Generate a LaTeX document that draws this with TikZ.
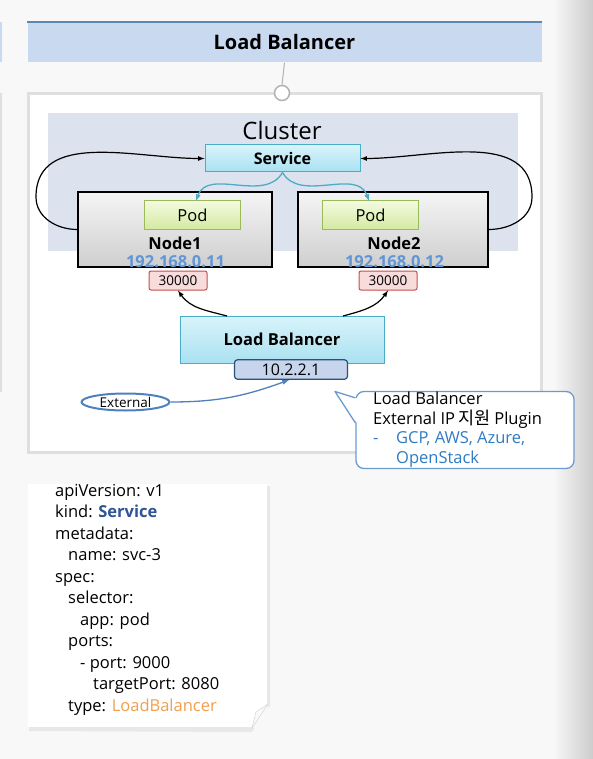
\documentclass[tikz,border=0pt]{standalone}
\usepackage{fontspec}
\setmainfont{Open Sans}
\newfontfamily\krfont{Noto Sans CJK KR}
\usetikzlibrary{shapes.geometric}

\definecolor{pagebg}{HTML}{F8F8F8}
\definecolor{hdrfill}{HTML}{C9DAF0}
\definecolor{hdrline}{HTML}{5B87B5}
\definecolor{clusterbg}{HTML}{DCE3EE}
\definecolor{svcline}{HTML}{4BACC6}
\definecolor{svctop}{HTML}{D8F3FA}
\definecolor{svcbot}{HTML}{A9E1F1}
\definecolor{podline}{HTML}{9BBB59}
\definecolor{podtop}{HTML}{F3FADF}
\definecolor{podbot}{HTML}{D5EAA2}
\definecolor{portfill}{HTML}{F8DCDC}
\definecolor{portline}{HTML}{C0504D}
\definecolor{ipblue}{HTML}{6196D6}
\definecolor{ipfill}{HTML}{C6D4EC}
\definecolor{ipline}{HTML}{2F4E7A}
\definecolor{extline}{HTML}{4F81BD}
\definecolor{noteline}{HTML}{6C9AD0}
\definecolor{cloudblue}{HTML}{2E7BC4}
\definecolor{kindblue}{HTML}{2F5597}
\definecolor{typeorange}{HTML}{F0A050}

\begin{document}
\begin{tikzpicture}
[every node/.style={inner sep=0pt},
 nodebox/.style={rectangle, draw=black, line width=1.2pt, top color=gray!8, bottom color=gray!38, minimum width=#1, minimum height=75pt},
 podbox/.style={rectangle, draw=podline, line width=1pt, top color=podtop, bottom color=podbot, minimum width=96pt, minimum height=28pt, font=\fontsize{16.5}{16.5}\selectfont},
 cyanbox/.style={rectangle, draw=svcline, line width=1pt, top color=svctop, bottom color=svcbot},
 portbox/.style={rectangle, rounded corners=2pt, draw=portline, line width=1pt, fill=portfill, minimum width=58pt, minimum height=19pt, font=\fontsize{13.5}{13.5}\selectfont},
 iptext/.style={text=ipblue, font=\fontsize{16.5}{16.5}\selectfont\bfseries},
 nodetext/.style={font=\fontsize{16.5}{16.5}\selectfont\bfseries}]
\useasboundingbox (0pt,0pt) rectangle (593pt,-759pt);
\fill[pagebg] (0pt,0pt) rectangle (593pt,-759pt);
\shade[left color=pagebg, right color=gray!40] (553pt,0pt) rectangle (593pt,-759pt);
% bits of the slide next to this one
\fill[hdrfill] (0pt,-22pt) rectangle (2pt,-62pt);
\draw[gray!25, line width=2pt] (1pt,-93pt) -- (1pt,-392pt);

% header
\node (hdr) [rectangle, fill=hdrfill, minimum width=514pt, minimum height=40pt, font=\fontsize{20}{20}\selectfont\bfseries] at (284.5pt, -42.5pt) {Load Balancer};
\draw [hdrline, line width=2pt] (hdr.north west) -- (hdr.north east);

% frame and cluster
\node (frame) [rectangle, draw=gray!25, line width=2.5pt, fill=white, minimum width=513pt, minimum height=359pt] at (285pt, -273pt) {};
\node (cluster) [rectangle, fill=clusterbg, minimum width=470pt, minimum height=138pt] at (283pt, -182pt) {};
\node (clusterlabel) [font=\fontsize{24}{24}\selectfont] at (282pt, -131pt) {Cluster};
\node (dot) [circle, draw=gray!60, line width=1.5pt, fill=white, minimum size=15pt] at (282pt, -93pt) {};
\draw [gray!60, line width=1pt] (hdr.south) -- (dot.north);

% service and nodes
\node (svc) [cyanbox, minimum width=155pt, minimum height=27pt, font=\fontsize{16}{16}\selectfont\bfseries] at (282.5pt, -158.5pt) {Service};
\node (n1) [nodebox=194pt] at (175pt, -229.5pt) {};
\node (n2) [nodebox=190pt] at (393pt, -229.5pt) {};
\node (pod1) [podbox] at (192.5pt, -215pt) {Pod};
\node (pod2) [podbox] at (370.5pt, -215pt) {Pod};
\node (n1label) [nodetext] at (175pt, -243pt) {Node1};
\node (n2label) [nodetext] at (394pt, -243pt) {Node2};
\node (ip1) [iptext] at (175.5pt, -262pt) {192.168.0.11};
\node (ip2) [iptext] at (394.5pt, -262pt) {192.168.0.12};
\node (port1) [portbox] at (178pt, -280.5pt) {30000};
\node (port2) [portbox] at (388pt, -280.5pt) {30000};

% load balancer
\node (lb) [cyanbox, minimum width=204pt, minimum height=47pt, font=\fontsize{16.5}{16.5}\selectfont\bfseries] at (282pt, -340pt) {\raisebox{1pt}{Load Balancer}};
\node (ip) [rectangle, rounded corners=3pt, draw=ipline, line width=1.2pt, fill=ipfill, minimum width=113pt, minimum height=19.5pt, font=\fontsize{16}{16}\selectfont] at (291pt, -369.5pt) {10.2.2.1};
\node (ext) [ellipse, draw=extline, line width=2pt, fill=white, minimum width=88pt, minimum height=17pt, font=\fontsize{13.5}{13.5}\selectfont] at (125.5pt, -402pt) {External};
\coordinate (iptip) at (289pt, -380pt);

% connectors
\draw [line width=1.2pt, -latex, color=black] (n1.west) to [out=180, in=270] (36pt, -197pt) to [out=90, in=180] (svc.west);
\draw [line width=1.2pt, -latex, color=black] (n2.east) to [out=0, in=270] (532pt, -197pt) to [out=90, in=0] (svc.east);
\draw [line width=1.3pt, -latex, color=svcline] (svc.south) to [out=240, in=70] (196pt, -201pt);
\draw [line width=1.3pt, -latex, color=svcline] (svc.south) to [out=300, in=110] (369pt, -201pt);
\draw [line width=1.2pt, -latex, color=black] (227pt, -316pt) to [out=165, in=305] (port1.south);
\draw [line width=1.2pt, -latex, color=black] (343pt, -316pt) to [out=15, in=235] (port2.south);
\draw [line width=1.3pt, -latex, color=extline] (ext.east) to [out=0, in=200] (iptip);

% note
\node (note) [rectangle, rounded corners=8pt, draw=noteline, line width=1.3pt, fill=white, minimum width=218pt, minimum height=77pt] at (465pt, -430pt) {};
\coordinate (notetip) at (335pt, -391.5pt);
\fill [white] ([xshift=1.5pt, yshift=-7.5pt]note.north west) -- (notetip) -- ([xshift=1.5pt, yshift=-32pt]note.north west) -- cycle;
\draw [noteline, line width=1.3pt, line join=round] ([yshift=-7pt]note.north west) -- (notetip) -- ([yshift=-32pt]note.north west);
\node (notetext) [anchor=north west, align=left, font=\fontsize{16.5}{19.8}\selectfont] at (373pt, -391.5pt) {Load Balancer\\External IP\hspace{3pt}{\krfont\fontsize{17.5}{17.5}\selectfont 지원}\hspace{4pt}Plugin\\{\color{cloudblue}\makebox[23pt][l]{-}GCP, AWS, Azure,}\\{\color{cloudblue}\hspace*{23pt}OpenStack}};

% yaml sheet
\fill[gray!18] (29pt,-486pt) -- (29pt,-731pt) -- (252pt,-732pt) -- (270pt,-705pt) -- (270pt,-486pt) -- cycle;
\node (yaml) [rectangle, fill=white, minimum width=239pt, minimum height=243pt, anchor=north west] at (28pt, -484pt) {};
\fill[pagebg] (252pt,-728pt) -- (268pt,-704pt) -- (268pt,-728pt) -- cycle;
\draw[gray!35, fill=gray!5] (252pt,-728pt) -- (268pt,-704pt) -- (256pt,-712pt) -- cycle;
\node (yamltext) [anchor=north west, align=left, font=\fontsize{16.5}{21.5}\selectfont] at (55pt, -484pt) {apiVersion: v1\\kind: {\color{kindblue}\bfseries Service}\\metadata:\\\hspace*{13pt}name: svc-3\\spec:\\\hspace*{13pt}selector:\\\hspace*{25pt}app: pod\\\hspace*{13pt}ports:\\\hspace*{25pt}- port: 9000\\\hspace*{38pt}targetPort: 8080\\\hspace*{13pt}type: {\color{typeorange}LoadBalancer}};
\end{tikzpicture}
\end{document}
